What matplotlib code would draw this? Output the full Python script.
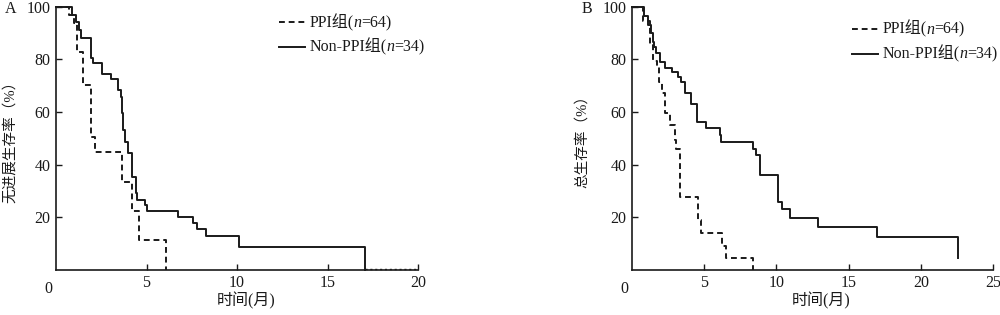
import numpy as np
import matplotlib
matplotlib.use("Agg")
import matplotlib.pyplot as plt
from matplotlib.offsetbox import TextArea, HPacker, VPacker, DrawingArea, AnchoredOffsetbox
from matplotlib.lines import Line2D

FONT = ['Liberation Serif', 'Noto Sans CJK SC']
plt.rcParams['font.family'] = FONT

# panel A: progression-free survival (%), step after each time (months)
pfs_ppi_t = [0, 0.72, 1.0, 1.18, 1.51, 1.92, 2.15, 3.63, 4.22, 4.59, 6.06]
pfs_ppi_s = [100, 97.0, 94.0, 82.8, 70.3, 50.6, 44.9, 33.4, 22.3, 11.2, 0]
pfs_non_t = [0, 0.87, 1.09, 1.27, 1.38, 1.93, 2.04, 2.52, 3.04, 3.44, 3.57, 3.65,
             3.72, 3.81, 4.0, 4.18, 4.42, 4.47, 4.92, 5.04, 6.76, 7.59, 7.77,
             8.27, 10.11, 17.07]
pfs_non_s = [100, 97.1, 94.1, 91.2, 88.2, 80.5, 78.5, 74.5, 72.5, 68.4, 65.8, 59.5,
             53.0, 48.7, 44.3, 35.4, 29.0, 26.5, 24.6, 22.3, 20.1, 17.8, 15.4,
             12.9, 8.7, 0]

# panel B: overall survival (%)
os_ppi_t = [0, 0.78, 1.24, 1.47, 1.75, 1.86, 2.09, 2.28, 2.62, 2.97, 3.08, 3.31,
            4.57, 4.8, 6.25, 6.53, 8.37]
os_ppi_s = [100, 94.8, 85.5, 79.5, 77.6, 71.5, 67.1, 59.5, 55.0, 49.3, 46.0, 27.7,
            18.9, 13.8, 9.0, 4.5, 0]
os_non_t = [0, 0.85, 1.12, 1.29, 1.43, 1.52, 1.66, 1.93, 2.28, 2.74, 3.19, 3.36,
            3.66, 4.12, 4.5, 5.15, 6.07, 6.18, 8.41, 8.6, 8.83, 10.09, 10.39,
            10.94, 12.9, 16.99, 22.55]
os_non_s = [100, 96.7, 93.0, 90.0, 86.8, 84.9, 82.3, 79.2, 76.9, 75.4, 73.4, 71.5,
            67.1, 63.0, 56.3, 54.0, 51.2, 48.7, 45.8, 43.6, 36.0, 25.8, 22.9,
            19.5, 16.3, 12.3, 4.3]

groups = [('PPI组(', '=64)'), ('Non-PPI组(', '=34)')]
DASH = (0, (3, 2))
COL = '#1a1a1a'
FS = 11.5

fig = plt.figure(figsize=(10, 3.15), dpi=100)
axA = fig.add_axes([0.056, 0.144, 0.362, 0.834])
axB = fig.add_axes([0.632, 0.144, 0.361, 0.834])


def step(ax, t, s, ls):
    t = list(t) + [t[-1]]
    s = list(s) + [s[-1]]
    ax.plot(t, s, drawstyle='steps-post', color=COL, lw=1.4, ls=ls, clip_on=False)


def legend(x, y):
    rows = []
    for (pre, post), ls in zip(groups, [DASH, '-']):
        da = DrawingArea(19, 8)
        da.add_artist(Line2D([0, 19], [4, 4], color=COL, lw=1.4, ls=ls))
        tp = dict(family=FONT, fontsize=FS, color=COL)
        txt = HPacker(children=[TextArea(pre, textprops=tp),
                                TextArea('n', textprops=dict(tp, style='italic')),
                                TextArea(post, textprops=tp)],
                      align='baseline', pad=0, sep=0)
        rows.append(HPacker(children=[da, txt], align='center', pad=0, sep=3))
    box = VPacker(children=rows, align='left', pad=0, sep=5)
    ab = AnchoredOffsetbox(loc='upper left', child=box, pad=0, borderpad=0,
                           frameon=False, bbox_to_anchor=(x, y),
                           bbox_transform=fig.transFigure)
    fig.add_artist(ab)


step(axA, pfs_ppi_t, pfs_ppi_s, DASH)
step(axA, pfs_non_t, pfs_non_s, '-')
axA.plot([17.07, 20], [0.4, 0.4], color=COL, lw=1.0, ls=(0, (1.5, 2)), clip_on=False)
step(axB, os_ppi_t, os_ppi_s, DASH)
step(axB, os_non_t, os_non_s, '-')

for ax, xmax, ylab in [(axA, 20, '无进展生存率（%）'), (axB, 25, '总生存率（%）')]:
    ax.set_xlim(0, xmax)
    ax.set_ylim(0, 100)
    ax.set_xticks(np.arange(5, xmax + 1, 5))
    ax.set_yticks([20, 40, 60, 80, 100])
    ax.tick_params(direction='in', length=4, width=1, labelsize=FS, pad=4,
                   colors=COL)
    for sp in ['top', 'right']:
        ax.spines[sp].set_visible(False)
    for sp in ['left', 'bottom']:
        ax.spines[sp].set_linewidth(1.2)
        ax.spines[sp].set_color(COL)
    ax.set_xlabel('时间(月)', fontsize=FS, color=COL)
    ax.set_ylabel(ylab, fontsize=10.5, color=COL)
    ax.text(-0.022, -0.045, '0', transform=ax.transAxes, fontsize=FS,
            ha='center', va='top', color=COL)
    ax.xaxis.set_label_coords(0.525, -0.085)

axA.yaxis.set_label_coords(-0.108, 0.5)
axB.yaxis.set_label_coords(-0.118, 0.5)

legend(0.279, 0.957)
legend(0.852, 0.935)

fig.text(0.005, 0.97, 'A', fontsize=FS, va='center', color=COL)
fig.text(0.582, 0.97, 'B', fontsize=FS, va='center', color=COL)

fig.savefig('out.png', dpi=100)
